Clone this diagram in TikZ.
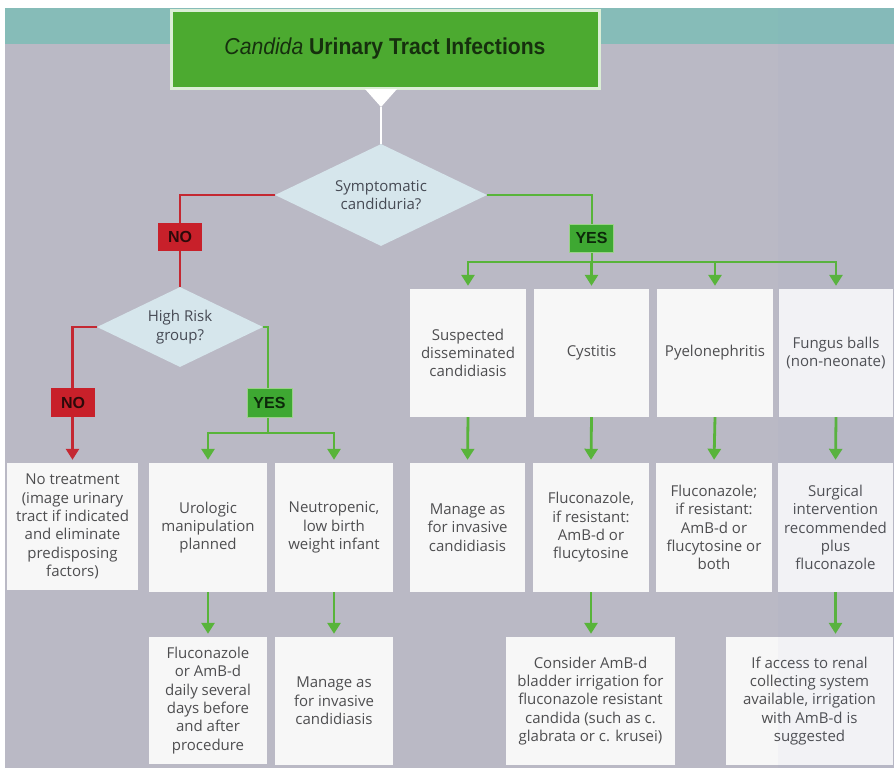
\documentclass[tikz,border=0pt]{standalone}
\usepackage{fontspec}
\setmainfont{Open Sans}
\newfontfamily\titlefont[FakeStretch=0.92]{Liberation Sans}
\newfontfamily\labfont{Liberation Sans}
\usetikzlibrary{shapes.geometric,arrows.meta}
\definecolor{bggray}{RGB}{186,185,197}
\definecolor{teal}{RGB}{134,188,184}
\definecolor{titlegreen}{RGB}{76,170,48}
\definecolor{titletext}{RGB}{22,48,14}
\definecolor{diafill}{RGB}{214,230,236}
\definecolor{diatext}{RGB}{70,74,84}
\definecolor{boxfill}{RGB}{247,247,247}
\definecolor{txtgray}{RGB}{78,78,80}
\definecolor{gline}{RGB}{88,180,58}
\definecolor{rline}{RGB}{196,40,50}
\definecolor{nofill}{RGB}{200,32,42}
\definecolor{notext}{RGB}{45,10,10}
\definecolor{yesfill}{RGB}{62,168,50}
\definecolor{yestext}{RGB}{12,40,10}
\definecolor{paneltint}{RGB}{120,140,220}
\tikzset{
  txt/.style={font=\fontsize{15}{18.3}\selectfont, text=txtgray, align=center},
  box/.style={txt, fill=boxfill, inner sep=0pt},
  dia/.style={diamond, aspect=2, fill=diafill, inner sep=0pt, txt, text=diatext},
  gl/.style={draw=gline, line width=2.8pt},
  rl/.style={draw=rline, line width=2.8pt},
  arr/.style={-{Triangle[width=13pt,length=11pt]}, shorten >=3pt},
  lab/.style={font=\labfont\bfseries\fontsize{16}{16}\selectfont, inner sep=0pt, minimum width=44pt, minimum height=28pt},
  nolab/.style={lab, fill=nofill, text=notext},
  yeslab/.style={lab, fill=yesfill, text=yestext, draw=gline!60!white, line width=0.8pt},
  titlebox/.style={fill=titlegreen, draw=white!80!titlegreen, line width=3pt, text=titletext,
    font=\titlefont\fontsize{23}{23}\selectfont, inner sep=0pt}
}
\begin{document}
\begin{tikzpicture}[x=1pt,y=-1pt]
\useasboundingbox (0,0) rectangle (894,771);
% background
\fill[white] (0,0) rectangle (894,771);
\fill[bggray] (5,8) rectangle (894,768);
\fill[teal] (5,8) rectangle (894,44);

% title
\node[titlebox, minimum width=428pt, minimum height=78pt] (title) at (385,49)
  {{\itshape Candida} \bfseries Urinary Tract Infections};
\coordinate (tip) at (381,107);
\fill[white] (365,89) -- (397,89) -- (tip) -- cycle;

% diamonds
\node[dia, minimum width=212pt, minimum height=102pt] (d1) at (381,195) {Symptomatic\\candiduria?};
\node[dia, minimum width=166pt, minimum height=80pt] (d2) at (180,327) {High Risk\\group?};
\draw[white, line width=2pt] (tip) -- (d1.north);

% boxes, left part
\node[box, minimum width=131pt, minimum height=127pt] (notr) at (72.5,526.5)
  {No treatment\\(image urinary\\tract if indicated\\and eliminate\\predisposing\\factors)};
\node[box, minimum width=118pt, minimum height=129pt] (uro) at (208,527.5)
  {Urologic\\manipulation\\planned};
\node[box, minimum width=118pt, minimum height=129pt] (neu) at (334,527.5)
  {Neutropenic,\\low birth\\weight infant};
\node[box, minimum width=118pt, minimum height=127pt] (fluc1) at (208,700.5)
  {Fluconazole\\or AmB-d\\daily several\\days before\\and after\\procedure};
\node[box, minimum width=118pt, minimum height=128pt] (man1) at (334,701)
  {Manage as\\for invasive\\candidiasis};

% boxes, right part
\node[box, minimum width=116pt, minimum height=128pt] (susp) at (468,353)
  {Suspected\\disseminated\\candidiasis};
\node[box, minimum width=115pt, minimum height=128pt] (cyst) at (591.5,353) {Cystitis};
\node[box, minimum width=116pt, minimum height=128pt] (pyel) at (715,353) {Pyelonephritis};
\node[box, minimum width=114pt, minimum height=128pt] (fung) at (836,353)
  {Fungus balls\\(non-neonate)};
\node[box, minimum width=115pt, minimum height=129pt] (man2) at (467.5,527.5)
  {Manage as\\for invasive\\candidiasis};
\node[box, minimum width=116pt, minimum height=129pt] (fluc2) at (591,527.5)
  {Fluconazole,\\if resistant:\\AmB-d or\\flucytosine};
\node[box, minimum width=116pt, minimum height=129pt] (fluc3) at (714,527.5)
  {Fluconazole;\\if resistant:\\AmB-d or\\flucytosine or\\both};
\node[box, minimum width=115pt, minimum height=129pt] (surg) at (835.5,527.5)
  {Surgical\\intervention\\recommended\\plus\\fluconazole};
\node[box, minimum width=169pt, minimum height=128pt] (cons) at (590.5,701)
  {Consider AmB-d\\bladder irrigation for\\fluconazole resistant\\candida (such as c.\\glabrata or c. krusei)};
\node[box, minimum width=167pt, minimum height=128pt] (acc) at (809.5,701)
  {If access to renal\\collecting system\\available, irrigation\\with AmB-d is\\suggested};

% junction points
\coordinate (j1) at (592,262);
\coordinate (j2) at (268,433);

% red connectors
\draw[rl] (d1.west) -| (d2.north);
\draw[rl, arr] (d2.west) -| (notr.north);

% green connectors, left
\draw[gl] (d2.east) -| (j2);
\draw[gl, arr] (j2) -| (uro.north);
\draw[gl, arr] (j2) -| (neu.north);
\draw[gl, arr] (uro.south) -- (fluc1.north);
\draw[gl, arr] (neu.south) -- (man1.north);

% green connectors, right
\draw[gl] (d1.east) -| (j1);
\draw[gl, arr] (j1) -| (susp.north);
\draw[gl, arr] (j1) -| (cyst.north);
\draw[gl, arr] (j1) -| (pyel.north);
\draw[gl, arr] (j1) -| (fung.north);
\draw[gl, arr] (susp.south) -- (man2.north);
\draw[gl, arr] (cyst.south) -- (fluc2.north);
\draw[gl, arr] (pyel.south) -- (fluc3.north);
\draw[gl, arr] (fung.south) -- (surg.north);
\draw[gl, arr] (fluc2.south) -- (fluc2.south |- cons.north);
\draw[gl, arr] (surg.south) -- (surg.south |- acc.north);

% labels
\node[nolab] (no1) at (180,236.5) {NO};
\node[nolab, minimum height=29pt] (no2) at (73,402.5) {NO};
\node[yeslab] (yes1) at (591.5,238) {YES};
\node[yeslab, minimum width=45pt, minimum height=29pt] (yes2) at (269.5,402.5) {YES};

% faint tint of right panel
\fill[paneltint, opacity=0.04] (778,8) rectangle (894,768);
\end{tikzpicture}
\end{document}
